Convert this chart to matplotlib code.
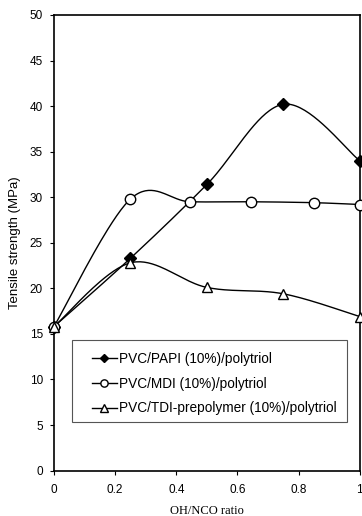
import numpy as np
import matplotlib.pyplot as plt
from matplotlib.patches import Rectangle

# OH/NCO ratio vs tensile strength for three isocyanate systems
papi_x = [0, 0.25, 0.5, 0.75, 1.0]
papi_y = [15.8, 23.3, 31.4, 40.2, 34.0]

mdi_x = [0, 0.25, 0.445, 0.645, 0.85, 1.0]
mdi_y = [15.8, 29.8, 29.5, 29.5, 29.4, 29.2]

tdi_x = [0, 0.25, 0.5, 0.75, 1.0]
tdi_y = [15.8, 22.8, 20.1, 19.4, 16.9]

labels = ['PVC/PAPI (10%)/polytriol',
          'PVC/MDI (10%)/polytriol',
          'PVC/TDI-prepolymer (10%)/polytriol']


def smooth(xs, ys, n=40):
    # Catmull-Rom through the points (spreadsheet style smoothed line)
    p = np.column_stack([xs, ys]).astype(float)
    p = np.vstack([p[0], p, p[-1]])
    out = []
    t = np.linspace(0, 1, n)[:, None]
    for i in range(1, len(p) - 2):
        p0, p1, p2, p3 = p[i - 1], p[i], p[i + 1], p[i + 2]
        c1 = p1 + (p2 - p0) / 6
        c2 = p2 - (p3 - p1) / 6
        seg = ((1 - t) ** 3) * p1 + 3 * ((1 - t) ** 2) * t * c1 \
            + 3 * (1 - t) * t ** 2 * c2 + t ** 3 * p2
        out.append(seg)
    s = np.vstack(out)
    return s[:, 0], s[:, 1]


plt.rcParams['font.family'] = ['Liberation Sans', 'DejaVu Sans']
fig = plt.figure(figsize=(3.62, 5.16), dpi=100)
ax = fig.add_axes([0.149, 0.088, 0.845, 0.883])

series = [(papi_x, papi_y, dict(marker='D', mfc='black', ms=6)),
          (mdi_x, mdi_y, dict(marker='o', mfc='white', ms=7.5)),
          (tdi_x, tdi_y, dict(marker='^', mfc='white', ms=7.5))]

for (xs, ys, mk), lab in zip(series, labels):
    sx, sy = smooth(xs, ys)
    ax.plot(sx, sy, color='black', lw=1.0, zorder=2)
    ax.plot(xs, ys, linestyle='none', color='black', mec='black', mew=1.0,
            zorder=3, clip_on=False, **mk)
    # legend proxy: line with marker
    ax.plot([], [], color='black', lw=1.0, mec='black', mew=1.0, label=lab, **mk)

ax.set_xlim(0, 1)
ax.set_ylim(0, 50)
ax.set_xticks([0, 0.2, 0.4, 0.6, 0.8, 1])
ax.set_xticklabels(['0', '0.2', '0.4', '0.6', '0.8', '1'])
ax.set_yticks(range(0, 51, 5))
ax.tick_params(labelsize=8.5, length=3, width=0.8, direction='out', pad=5)
ax.tick_params(axis='x', pad=7)
for sp in ax.spines.values():
    sp.set_linewidth(1.2)

ax.set_ylabel('Tensile strength (MPa)', fontsize=9.5, labelpad=6)
ax.set_xlabel('OH/NCO ratio', fontsize=9, family='Liberation Serif', labelpad=6)

# legend box drawn separately so the inner padding can be wider than tall
ax.add_patch(Rectangle((0.059, 0.107), 0.898, 0.180, transform=ax.transAxes,
                       facecolor='white', edgecolor='#555555', lw=0.8, zorder=4))
leg = ax.legend(loc='upper left', bbox_to_anchor=(0.124, 0.261), fontsize=9.8,
                frameon=False, handlelength=1.85, borderpad=0, labelspacing=0.8,
                handletextpad=0.15, markerscale=0.7, borderaxespad=0)
leg.set_zorder(5)

fig.savefig('out.png', dpi=100)
